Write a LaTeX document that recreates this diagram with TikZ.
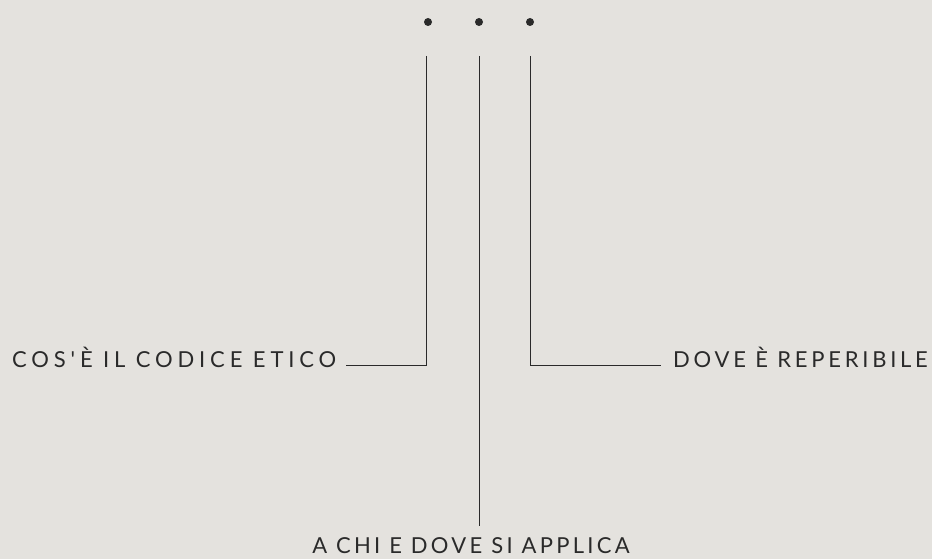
\documentclass[tikz,border=0pt]{standalone}
\usepackage{fontspec}
\newfontfamily\decofont[LetterSpace=17]{Lato}
\definecolor{paper}{HTML}{E4E2DE}
\definecolor{ink}{HTML}{2A2A2A}
\tikzset{
  voce/.style={font=\decofont\fontsize{22}{26}\selectfont, text=ink, inner sep=0pt},
  punto/.style={circle, fill=ink, inner sep=0pt, minimum size=8pt},
  filo/.style={draw=ink, line width=0.9pt}
}
\begin{document}
\begin{tikzpicture}[x=1pt,y=-1pt]
\fill[paper] (0,0) rectangle (932,559);
\useasboundingbox (0,0) rectangle (932,559);
% tre punti in alto
\node[punto] (p1) at (428,22) {};
\node[punto] (p2) at (479,22) {};
\node[punto] (p3) at (530,22) {};
\coordinate (t1) at (426,56);
\coordinate (t2) at (479,56);
\coordinate (t3) at (530,56);
% voci
\node[voce, anchor=base west] (cose) at (12,367) {\addfontfeature{LetterSpace=22}COS'È IL CODICE ETICO};
\node[voce, anchor=base east] (dove) at (928,367) {DOVE È REPERIBILE};
\node[voce, anchor=base] (chi) at (471,553) {\addfontfeature{LetterSpace=15}A CHI E DOVE SI APPLICA};
\coordinate (b2) at ([yshift=11pt]chi.north);
% fili
\draw[filo] (t1) |- ([xshift=10pt,yshift=2pt]cose.base east);
\draw[filo] (t3) |- ([xshift=-12pt,yshift=2pt]dove.base west);
\draw[filo] (t2) -- (t2 |- b2);
\end{tikzpicture}
\end{document}
